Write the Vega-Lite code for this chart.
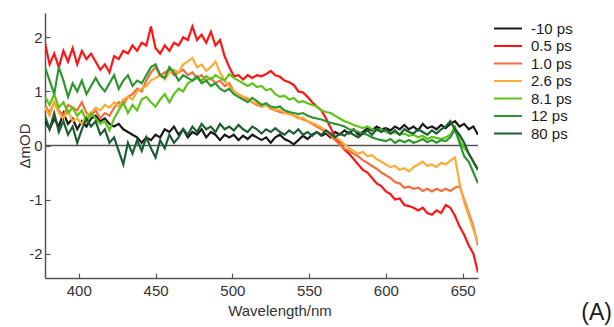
{
"$schema": "https://vega.github.io/schema/vega-lite/v6.json",
"width": 433, "height": 265,
"autosize": {"type": "none"},
"padding": {"left": 45, "top": 13, "right": 136, "bottom": 49},
"background": "white",
"config": {"view": {"stroke": null}, "font": "Liberation Sans"},
"title": {"text": "(A)", "orient": "bottom", "anchor": "end", "frame": "group", "fontSize": 23, "fontWeight": "normal", "color": "#1a1a1a", "dx": 134, "offset": -16},
"datasets": {
"spectra": [
{"w":378,"s":"-10 ps","v":0.45},{"w":381,"s":"-10 ps","v":0.3},{"w":384,"s":"-10 ps","v":0.5},{"w":387,"s":"-10 ps","v":0.35},{"w":390,"s":"-10 ps","v":0.6},{"w":393,"s":"-10 ps","v":0.4},{"w":396,"s":"-10 ps","v":0.5},{"w":399,"s":"-10 ps","v":0.3},{"w":402,"s":"-10 ps","v":0.45},{"w":405,"s":"-10 ps","v":0.35},
{"w":408,"s":"-10 ps","v":0.5},{"w":411,"s":"-10 ps","v":0.55},{"w":414,"s":"-10 ps","v":0.45},{"w":417,"s":"-10 ps","v":0.5},{"w":420,"s":"-10 ps","v":0.4},{"w":423,"s":"-10 ps","v":0.35},{"w":426,"s":"-10 ps","v":0.4},{"w":429,"s":"-10 ps","v":0.3},{"w":432,"s":"-10 ps","v":0.25},{"w":435,"s":"-10 ps","v":0.2},
{"w":438,"s":"-10 ps","v":0.15},{"w":441,"s":"-10 ps","v":0.05},{"w":444,"s":"-10 ps","v":0.15},{"w":447,"s":"-10 ps","v":0.1},{"w":450,"s":"-10 ps","v":0.2},{"w":453,"s":"-10 ps","v":0.15},{"w":456,"s":"-10 ps","v":0.3},{"w":459,"s":"-10 ps","v":0.25},{"w":462,"s":"-10 ps","v":0.35},{"w":465,"s":"-10 ps","v":0.2},
{"w":468,"s":"-10 ps","v":0.3},{"w":471,"s":"-10 ps","v":0.15},{"w":474,"s":"-10 ps","v":0.25},{"w":477,"s":"-10 ps","v":0.2},{"w":480,"s":"-10 ps","v":0.3},{"w":483,"s":"-10 ps","v":0.15},{"w":486,"s":"-10 ps","v":0.25},{"w":489,"s":"-10 ps","v":0.2},{"w":492,"s":"-10 ps","v":0.1},{"w":495,"s":"-10 ps","v":0.2},
{"w":498,"s":"-10 ps","v":0.15},{"w":501,"s":"-10 ps","v":0.2},{"w":504,"s":"-10 ps","v":0.1},{"w":507,"s":"-10 ps","v":0.18},{"w":510,"s":"-10 ps","v":0.12},{"w":513,"s":"-10 ps","v":0.2},{"w":516,"s":"-10 ps","v":0.15},{"w":519,"s":"-10 ps","v":0.1},{"w":522,"s":"-10 ps","v":0.15},{"w":525,"s":"-10 ps","v":0.05},
{"w":528,"s":"-10 ps","v":0.15},{"w":531,"s":"-10 ps","v":0.2},{"w":534,"s":"-10 ps","v":0.12},{"w":537,"s":"-10 ps","v":0.08},{"w":540,"s":"-10 ps","v":0.02},{"w":543,"s":"-10 ps","v":0.1},{"w":546,"s":"-10 ps","v":0.18},{"w":549,"s":"-10 ps","v":0.12},{"w":552,"s":"-10 ps","v":0.2},{"w":555,"s":"-10 ps","v":0.25},
{"w":558,"s":"-10 ps","v":0.18},{"w":561,"s":"-10 ps","v":0.22},{"w":564,"s":"-10 ps","v":0.15},{"w":567,"s":"-10 ps","v":0.25},{"w":570,"s":"-10 ps","v":0.2},{"w":573,"s":"-10 ps","v":0.28},{"w":576,"s":"-10 ps","v":0.22},{"w":579,"s":"-10 ps","v":0.3},{"w":582,"s":"-10 ps","v":0.2},{"w":585,"s":"-10 ps","v":0.25},
{"w":588,"s":"-10 ps","v":0.32},{"w":591,"s":"-10 ps","v":0.28},{"w":594,"s":"-10 ps","v":0.35},{"w":597,"s":"-10 ps","v":0.3},{"w":600,"s":"-10 ps","v":0.32},{"w":603,"s":"-10 ps","v":0.28},{"w":606,"s":"-10 ps","v":0.35},{"w":609,"s":"-10 ps","v":0.3},{"w":612,"s":"-10 ps","v":0.38},{"w":615,"s":"-10 ps","v":0.3},
{"w":618,"s":"-10 ps","v":0.35},{"w":621,"s":"-10 ps","v":0.28},{"w":624,"s":"-10 ps","v":0.4},{"w":627,"s":"-10 ps","v":0.32},{"w":630,"s":"-10 ps","v":0.35},{"w":633,"s":"-10 ps","v":0.3},{"w":636,"s":"-10 ps","v":0.38},{"w":639,"s":"-10 ps","v":0.32},{"w":642,"s":"-10 ps","v":0.4},{"w":645,"s":"-10 ps","v":0.45},
{"w":648,"s":"-10 ps","v":0.35},{"w":651,"s":"-10 ps","v":0.4},{"w":654,"s":"-10 ps","v":0.3},{"w":657,"s":"-10 ps","v":0.35},{"w":660,"s":"-10 ps","v":0.2},

{"w":378,"s":"0.5 ps","v":1.9},{"w":381,"s":"0.5 ps","v":1.5},{"w":384,"s":"0.5 ps","v":1.7},{"w":387,"s":"0.5 ps","v":1.45},{"w":390,"s":"0.5 ps","v":1.75},{"w":393,"s":"0.5 ps","v":1.55},{"w":396,"s":"0.5 ps","v":1.8},{"w":399,"s":"0.5 ps","v":1.5},{"w":402,"s":"0.5 ps","v":1.75},{"w":405,"s":"0.5 ps","v":1.6},
{"w":408,"s":"0.5 ps","v":1.7},{"w":411,"s":"0.5 ps","v":1.55},{"w":414,"s":"0.5 ps","v":1.4},{"w":417,"s":"0.5 ps","v":1.5},{"w":420,"s":"0.5 ps","v":1.35},{"w":423,"s":"0.5 ps","v":1.65},{"w":426,"s":"0.5 ps","v":1.6},{"w":429,"s":"0.5 ps","v":1.75},{"w":432,"s":"0.5 ps","v":1.7},{"w":435,"s":"0.5 ps","v":1.85},
{"w":438,"s":"0.5 ps","v":1.75},{"w":441,"s":"0.5 ps","v":1.9},{"w":444,"s":"0.5 ps","v":1.85},{"w":447,"s":"0.5 ps","v":2.2},{"w":450,"s":"0.5 ps","v":1.8},{"w":453,"s":"0.5 ps","v":1.7},{"w":456,"s":"0.5 ps","v":1.85},{"w":459,"s":"0.5 ps","v":1.75},{"w":462,"s":"0.5 ps","v":1.9},{"w":465,"s":"0.5 ps","v":1.85},
{"w":468,"s":"0.5 ps","v":2.0},{"w":471,"s":"0.5 ps","v":1.95},{"w":474,"s":"0.5 ps","v":2.2},{"w":477,"s":"0.5 ps","v":1.95},{"w":480,"s":"0.5 ps","v":2.05},{"w":483,"s":"0.5 ps","v":1.9},{"w":486,"s":"0.5 ps","v":2.1},{"w":489,"s":"0.5 ps","v":1.85},{"w":492,"s":"0.5 ps","v":1.95},{"w":495,"s":"0.5 ps","v":1.65},
{"w":498,"s":"0.5 ps","v":1.45},{"w":501,"s":"0.5 ps","v":1.28},{"w":504,"s":"0.5 ps","v":1.3},{"w":507,"s":"0.5 ps","v":1.22},{"w":510,"s":"0.5 ps","v":1.3},{"w":513,"s":"0.5 ps","v":1.25},{"w":516,"s":"0.5 ps","v":1.3},{"w":519,"s":"0.5 ps","v":1.28},{"w":522,"s":"0.5 ps","v":1.32},{"w":525,"s":"0.5 ps","v":1.38},
{"w":528,"s":"0.5 ps","v":1.3},{"w":531,"s":"0.5 ps","v":1.27},{"w":534,"s":"0.5 ps","v":1.2},{"w":537,"s":"0.5 ps","v":1.17},{"w":540,"s":"0.5 ps","v":1.12},{"w":543,"s":"0.5 ps","v":1.0},{"w":546,"s":"0.5 ps","v":0.98},{"w":549,"s":"0.5 ps","v":0.9},{"w":552,"s":"0.5 ps","v":0.8},{"w":555,"s":"0.5 ps","v":0.72},
{"w":558,"s":"0.5 ps","v":0.65},{"w":561,"s":"0.5 ps","v":0.5},{"w":564,"s":"0.5 ps","v":0.33},{"w":567,"s":"0.5 ps","v":0.15},{"w":570,"s":"0.5 ps","v":0.05},{"w":573,"s":"0.5 ps","v":-0.08},{"w":576,"s":"0.5 ps","v":-0.15},{"w":579,"s":"0.5 ps","v":-0.25},{"w":582,"s":"0.5 ps","v":-0.35},{"w":585,"s":"0.5 ps","v":-0.45},
{"w":588,"s":"0.5 ps","v":-0.5},{"w":591,"s":"0.5 ps","v":-0.6},{"w":594,"s":"0.5 ps","v":-0.7},{"w":597,"s":"0.5 ps","v":-0.75},{"w":600,"s":"0.5 ps","v":-0.85},{"w":603,"s":"0.5 ps","v":-0.9},{"w":606,"s":"0.5 ps","v":-1.0},{"w":609,"s":"0.5 ps","v":-0.98},{"w":612,"s":"0.5 ps","v":-1.1},{"w":615,"s":"0.5 ps","v":-1.12},
{"w":618,"s":"0.5 ps","v":-1.15},{"w":621,"s":"0.5 ps","v":-1.2},{"w":624,"s":"0.5 ps","v":-1.15},{"w":627,"s":"0.5 ps","v":-1.25},{"w":630,"s":"0.5 ps","v":-1.28},{"w":633,"s":"0.5 ps","v":-1.2},{"w":636,"s":"0.5 ps","v":-1.25},{"w":639,"s":"0.5 ps","v":-1.1},{"w":642,"s":"0.5 ps","v":-1.15},{"w":645,"s":"0.5 ps","v":-1.3},
{"w":648,"s":"0.5 ps","v":-1.5},{"w":651,"s":"0.5 ps","v":-1.65},{"w":654,"s":"0.5 ps","v":-1.85},{"w":657,"s":"0.5 ps","v":-2.0},{"w":660,"s":"0.5 ps","v":-2.35},

{"w":378,"s":"1.0 ps","v":0.75},{"w":381,"s":"1.0 ps","v":0.6},{"w":384,"s":"1.0 ps","v":0.8},{"w":387,"s":"1.0 ps","v":0.65},{"w":390,"s":"1.0 ps","v":0.55},{"w":393,"s":"1.0 ps","v":0.75},{"w":396,"s":"1.0 ps","v":0.7},{"w":399,"s":"1.0 ps","v":0.65},{"w":402,"s":"1.0 ps","v":0.8},{"w":405,"s":"1.0 ps","v":0.6},
{"w":408,"s":"1.0 ps","v":0.55},{"w":411,"s":"1.0 ps","v":0.65},{"w":414,"s":"1.0 ps","v":0.5},{"w":417,"s":"1.0 ps","v":0.6},{"w":420,"s":"1.0 ps","v":0.55},{"w":423,"s":"1.0 ps","v":0.7},{"w":426,"s":"1.0 ps","v":0.8},{"w":429,"s":"1.0 ps","v":0.75},{"w":432,"s":"1.0 ps","v":0.9},{"w":435,"s":"1.0 ps","v":0.95},
{"w":438,"s":"1.0 ps","v":1.05},{"w":441,"s":"1.0 ps","v":1.0},{"w":444,"s":"1.0 ps","v":1.2},{"w":447,"s":"1.0 ps","v":1.35},{"w":450,"s":"1.0 ps","v":1.45},{"w":453,"s":"1.0 ps","v":1.3},{"w":456,"s":"1.0 ps","v":1.35},{"w":459,"s":"1.0 ps","v":1.4},{"w":462,"s":"1.0 ps","v":1.3},{"w":465,"s":"1.0 ps","v":1.35},
{"w":468,"s":"1.0 ps","v":1.4},{"w":471,"s":"1.0 ps","v":1.3},{"w":474,"s":"1.0 ps","v":1.35},{"w":477,"s":"1.0 ps","v":1.25},{"w":480,"s":"1.0 ps","v":1.3},{"w":483,"s":"1.0 ps","v":1.2},{"w":486,"s":"1.0 ps","v":1.25},{"w":489,"s":"1.0 ps","v":1.15},{"w":492,"s":"1.0 ps","v":1.2},{"w":495,"s":"1.0 ps","v":1.1},
{"w":498,"s":"1.0 ps","v":1.15},{"w":501,"s":"1.0 ps","v":1.0},{"w":504,"s":"1.0 ps","v":0.95},{"w":507,"s":"1.0 ps","v":0.9},{"w":510,"s":"1.0 ps","v":0.85},{"w":513,"s":"1.0 ps","v":0.8},{"w":516,"s":"1.0 ps","v":0.75},{"w":519,"s":"1.0 ps","v":0.72},{"w":522,"s":"1.0 ps","v":0.75},{"w":525,"s":"1.0 ps","v":0.68},
{"w":528,"s":"1.0 ps","v":0.65},{"w":531,"s":"1.0 ps","v":0.62},{"w":534,"s":"1.0 ps","v":0.6},{"w":537,"s":"1.0 ps","v":0.62},{"w":540,"s":"1.0 ps","v":0.55},{"w":543,"s":"1.0 ps","v":0.52},{"w":546,"s":"1.0 ps","v":0.48},{"w":549,"s":"1.0 ps","v":0.45},{"w":552,"s":"1.0 ps","v":0.4},{"w":555,"s":"1.0 ps","v":0.35},
{"w":558,"s":"1.0 ps","v":0.3},{"w":561,"s":"1.0 ps","v":0.25},{"w":564,"s":"1.0 ps","v":0.18},{"w":567,"s":"1.0 ps","v":0.1},{"w":570,"s":"1.0 ps","v":0.02},{"w":573,"s":"1.0 ps","v":-0.06},{"w":576,"s":"1.0 ps","v":-0.1},{"w":579,"s":"1.0 ps","v":-0.15},{"w":582,"s":"1.0 ps","v":-0.2},{"w":585,"s":"1.0 ps","v":-0.27},
{"w":588,"s":"1.0 ps","v":-0.32},{"w":591,"s":"1.0 ps","v":-0.38},{"w":594,"s":"1.0 ps","v":-0.43},{"w":597,"s":"1.0 ps","v":-0.5},{"w":600,"s":"1.0 ps","v":-0.55},{"w":603,"s":"1.0 ps","v":-0.6},{"w":606,"s":"1.0 ps","v":-0.68},{"w":609,"s":"1.0 ps","v":-0.7},{"w":612,"s":"1.0 ps","v":-0.78},{"w":615,"s":"1.0 ps","v":-0.76},
{"w":618,"s":"1.0 ps","v":-0.8},{"w":621,"s":"1.0 ps","v":-0.78},{"w":624,"s":"1.0 ps","v":-0.84},{"w":627,"s":"1.0 ps","v":-0.8},{"w":630,"s":"1.0 ps","v":-0.85},{"w":633,"s":"1.0 ps","v":-0.8},{"w":636,"s":"1.0 ps","v":-0.84},{"w":639,"s":"1.0 ps","v":-0.8},{"w":642,"s":"1.0 ps","v":-0.84},{"w":645,"s":"1.0 ps","v":-0.78},
{"w":648,"s":"1.0 ps","v":-0.75},{"w":651,"s":"1.0 ps","v":-1.0},{"w":654,"s":"1.0 ps","v":-1.25},{"w":657,"s":"1.0 ps","v":-1.5},{"w":660,"s":"1.0 ps","v":-1.85},

{"w":378,"s":"2.6 ps","v":0.7},{"w":381,"s":"2.6 ps","v":0.55},{"w":384,"s":"2.6 ps","v":0.8},{"w":387,"s":"2.6 ps","v":0.6},{"w":390,"s":"2.6 ps","v":0.5},{"w":393,"s":"2.6 ps","v":0.65},{"w":396,"s":"2.6 ps","v":0.45},{"w":399,"s":"2.6 ps","v":0.5},{"w":402,"s":"2.6 ps","v":0.4},{"w":405,"s":"2.6 ps","v":0.55},
{"w":408,"s":"2.6 ps","v":0.6},{"w":411,"s":"2.6 ps","v":0.7},{"w":414,"s":"2.6 ps","v":0.65},{"w":417,"s":"2.6 ps","v":0.75},{"w":420,"s":"2.6 ps","v":0.7},{"w":423,"s":"2.6 ps","v":0.8},{"w":426,"s":"2.6 ps","v":0.72},{"w":429,"s":"2.6 ps","v":0.85},{"w":432,"s":"2.6 ps","v":0.9},{"w":435,"s":"2.6 ps","v":0.85},
{"w":438,"s":"2.6 ps","v":1.0},{"w":441,"s":"2.6 ps","v":1.05},{"w":444,"s":"2.6 ps","v":1.1},{"w":447,"s":"2.6 ps","v":1.2},{"w":450,"s":"2.6 ps","v":1.25},{"w":453,"s":"2.6 ps","v":1.3},{"w":456,"s":"2.6 ps","v":1.22},{"w":459,"s":"2.6 ps","v":1.35},{"w":462,"s":"2.6 ps","v":1.4},{"w":465,"s":"2.6 ps","v":1.35},
{"w":468,"s":"2.6 ps","v":1.5},{"w":471,"s":"2.6 ps","v":1.55},{"w":474,"s":"2.6 ps","v":1.62},{"w":477,"s":"2.6 ps","v":1.45},{"w":480,"s":"2.6 ps","v":1.5},{"w":483,"s":"2.6 ps","v":1.38},{"w":486,"s":"2.6 ps","v":1.45},{"w":489,"s":"2.6 ps","v":1.55},{"w":492,"s":"2.6 ps","v":1.35},{"w":495,"s":"2.6 ps","v":1.2},
{"w":498,"s":"2.6 ps","v":1.1},{"w":501,"s":"2.6 ps","v":1.0},{"w":504,"s":"2.6 ps","v":0.95},{"w":507,"s":"2.6 ps","v":0.9},{"w":510,"s":"2.6 ps","v":0.88},{"w":513,"s":"2.6 ps","v":0.8},{"w":516,"s":"2.6 ps","v":0.78},{"w":519,"s":"2.6 ps","v":0.72},{"w":522,"s":"2.6 ps","v":0.75},{"w":525,"s":"2.6 ps","v":0.7},
{"w":528,"s":"2.6 ps","v":0.65},{"w":531,"s":"2.6 ps","v":0.66},{"w":534,"s":"2.6 ps","v":0.6},{"w":537,"s":"2.6 ps","v":0.58},{"w":540,"s":"2.6 ps","v":0.55},{"w":543,"s":"2.6 ps","v":0.5},{"w":546,"s":"2.6 ps","v":0.52},{"w":549,"s":"2.6 ps","v":0.45},{"w":552,"s":"2.6 ps","v":0.42},{"w":555,"s":"2.6 ps","v":0.38},
{"w":558,"s":"2.6 ps","v":0.33},{"w":561,"s":"2.6 ps","v":0.28},{"w":564,"s":"2.6 ps","v":0.22},{"w":567,"s":"2.6 ps","v":0.15},{"w":570,"s":"2.6 ps","v":0.1},{"w":573,"s":"2.6 ps","v":0.02},{"w":576,"s":"2.6 ps","v":-0.05},{"w":579,"s":"2.6 ps","v":-0.1},{"w":582,"s":"2.6 ps","v":-0.15},{"w":585,"s":"2.6 ps","v":-0.12},
{"w":588,"s":"2.6 ps","v":-0.2},{"w":591,"s":"2.6 ps","v":-0.18},{"w":594,"s":"2.6 ps","v":-0.25},{"w":597,"s":"2.6 ps","v":-0.3},{"w":600,"s":"2.6 ps","v":-0.35},{"w":603,"s":"2.6 ps","v":-0.4},{"w":606,"s":"2.6 ps","v":-0.38},{"w":609,"s":"2.6 ps","v":-0.45},{"w":612,"s":"2.6 ps","v":-0.42},{"w":615,"s":"2.6 ps","v":-0.48},
{"w":618,"s":"2.6 ps","v":-0.4},{"w":621,"s":"2.6 ps","v":-0.35},{"w":624,"s":"2.6 ps","v":-0.3},{"w":627,"s":"2.6 ps","v":-0.38},{"w":630,"s":"2.6 ps","v":-0.35},{"w":633,"s":"2.6 ps","v":-0.4},{"w":636,"s":"2.6 ps","v":-0.32},{"w":639,"s":"2.6 ps","v":-0.35},{"w":642,"s":"2.6 ps","v":-0.28},{"w":645,"s":"2.6 ps","v":-0.22},
{"w":648,"s":"2.6 ps","v":-0.7},{"w":651,"s":"2.6 ps","v":-1.05},{"w":654,"s":"2.6 ps","v":-1.3},{"w":657,"s":"2.6 ps","v":-1.55},{"w":660,"s":"2.6 ps","v":-1.8},

{"w":378,"s":"8.1 ps","v":0.9},{"w":381,"s":"8.1 ps","v":0.75},{"w":384,"s":"8.1 ps","v":0.95},{"w":387,"s":"8.1 ps","v":0.7},{"w":390,"s":"8.1 ps","v":0.8},{"w":393,"s":"8.1 ps","v":0.6},{"w":396,"s":"8.1 ps","v":0.7},{"w":399,"s":"8.1 ps","v":0.55},{"w":402,"s":"8.1 ps","v":0.65},{"w":405,"s":"8.1 ps","v":0.45},
{"w":408,"s":"8.1 ps","v":0.6},{"w":411,"s":"8.1 ps","v":0.5},{"w":414,"s":"8.1 ps","v":0.4},{"w":417,"s":"8.1 ps","v":0.45},{"w":420,"s":"8.1 ps","v":0.28},{"w":423,"s":"8.1 ps","v":0.5},{"w":426,"s":"8.1 ps","v":0.65},{"w":429,"s":"8.1 ps","v":0.8},{"w":432,"s":"8.1 ps","v":0.6},{"w":435,"s":"8.1 ps","v":0.75},
{"w":438,"s":"8.1 ps","v":0.65},{"w":441,"s":"8.1 ps","v":0.85},{"w":444,"s":"8.1 ps","v":0.9},{"w":447,"s":"8.1 ps","v":0.8},{"w":450,"s":"8.1 ps","v":0.72},{"w":453,"s":"8.1 ps","v":0.85},{"w":456,"s":"8.1 ps","v":0.95},{"w":459,"s":"8.1 ps","v":0.8},{"w":462,"s":"8.1 ps","v":0.95},{"w":465,"s":"8.1 ps","v":1.05},
{"w":468,"s":"8.1 ps","v":1.0},{"w":471,"s":"8.1 ps","v":1.15},{"w":474,"s":"8.1 ps","v":1.2},{"w":477,"s":"8.1 ps","v":1.25},{"w":480,"s":"8.1 ps","v":1.2},{"w":483,"s":"8.1 ps","v":1.28},{"w":486,"s":"8.1 ps","v":1.22},{"w":489,"s":"8.1 ps","v":1.3},{"w":492,"s":"8.1 ps","v":1.25},{"w":495,"s":"8.1 ps","v":1.2},
{"w":498,"s":"8.1 ps","v":1.32},{"w":501,"s":"8.1 ps","v":1.25},{"w":504,"s":"8.1 ps","v":1.2},{"w":507,"s":"8.1 ps","v":1.15},{"w":510,"s":"8.1 ps","v":1.1},{"w":513,"s":"8.1 ps","v":1.15},{"w":516,"s":"8.1 ps","v":1.08},{"w":519,"s":"8.1 ps","v":1.1},{"w":522,"s":"8.1 ps","v":1.02},{"w":525,"s":"8.1 ps","v":1.05},
{"w":528,"s":"8.1 ps","v":0.95},{"w":531,"s":"8.1 ps","v":0.9},{"w":534,"s":"8.1 ps","v":0.92},{"w":537,"s":"8.1 ps","v":0.85},{"w":540,"s":"8.1 ps","v":0.88},{"w":543,"s":"8.1 ps","v":0.8},{"w":546,"s":"8.1 ps","v":0.82},{"w":549,"s":"8.1 ps","v":0.78},{"w":552,"s":"8.1 ps","v":0.75},{"w":555,"s":"8.1 ps","v":0.72},
{"w":558,"s":"8.1 ps","v":0.65},{"w":561,"s":"8.1 ps","v":0.62},{"w":564,"s":"8.1 ps","v":0.6},{"w":567,"s":"8.1 ps","v":0.55},{"w":570,"s":"8.1 ps","v":0.5},{"w":573,"s":"8.1 ps","v":0.45},{"w":576,"s":"8.1 ps","v":0.42},{"w":579,"s":"8.1 ps","v":0.38},{"w":582,"s":"8.1 ps","v":0.35},{"w":585,"s":"8.1 ps","v":0.32},
{"w":588,"s":"8.1 ps","v":0.35},{"w":591,"s":"8.1 ps","v":0.3},{"w":594,"s":"8.1 ps","v":0.28},{"w":597,"s":"8.1 ps","v":0.3},{"w":600,"s":"8.1 ps","v":0.25},{"w":603,"s":"8.1 ps","v":0.22},{"w":606,"s":"8.1 ps","v":0.24},{"w":609,"s":"8.1 ps","v":0.2},{"w":612,"s":"8.1 ps","v":0.22},{"w":615,"s":"8.1 ps","v":0.18},
{"w":618,"s":"8.1 ps","v":0.2},{"w":621,"s":"8.1 ps","v":0.15},{"w":624,"s":"8.1 ps","v":0.18},{"w":627,"s":"8.1 ps","v":0.12},{"w":630,"s":"8.1 ps","v":0.16},{"w":633,"s":"8.1 ps","v":0.14},{"w":636,"s":"8.1 ps","v":0.12},{"w":639,"s":"8.1 ps","v":0.15},{"w":642,"s":"8.1 ps","v":0.2},{"w":645,"s":"8.1 ps","v":0.35},
{"w":648,"s":"8.1 ps","v":0.1},{"w":651,"s":"8.1 ps","v":-0.05},{"w":654,"s":"8.1 ps","v":-0.15},{"w":657,"s":"8.1 ps","v":-0.3},{"w":660,"s":"8.1 ps","v":-0.45},

{"w":378,"s":"12 ps","v":1.45},{"w":381,"s":"12 ps","v":1.2},{"w":384,"s":"12 ps","v":0.95},{"w":387,"s":"12 ps","v":1.45},{"w":390,"s":"12 ps","v":1.2},{"w":393,"s":"12 ps","v":0.9},{"w":396,"s":"12 ps","v":1.15},{"w":399,"s":"12 ps","v":1.0},{"w":402,"s":"12 ps","v":1.2},{"w":405,"s":"12 ps","v":0.95},
{"w":408,"s":"12 ps","v":1.1},{"w":411,"s":"12 ps","v":1.25},{"w":414,"s":"12 ps","v":1.1},{"w":417,"s":"12 ps","v":1.0},{"w":420,"s":"12 ps","v":1.15},{"w":423,"s":"12 ps","v":1.3},{"w":426,"s":"12 ps","v":1.05},{"w":429,"s":"12 ps","v":1.2},{"w":432,"s":"12 ps","v":1.3},{"w":435,"s":"12 ps","v":1.1},
{"w":438,"s":"12 ps","v":1.2},{"w":441,"s":"12 ps","v":1.15},{"w":444,"s":"12 ps","v":1.3},{"w":447,"s":"12 ps","v":1.45},{"w":450,"s":"12 ps","v":1.5},{"w":453,"s":"12 ps","v":1.3},{"w":456,"s":"12 ps","v":1.25},{"w":459,"s":"12 ps","v":1.45},{"w":462,"s":"12 ps","v":1.35},{"w":465,"s":"12 ps","v":1.2},
{"w":468,"s":"12 ps","v":1.3},{"w":471,"s":"12 ps","v":1.25},{"w":474,"s":"12 ps","v":1.2},{"w":477,"s":"12 ps","v":1.28},{"w":480,"s":"12 ps","v":1.15},{"w":483,"s":"12 ps","v":1.2},{"w":486,"s":"12 ps","v":1.1},{"w":489,"s":"12 ps","v":1.15},{"w":492,"s":"12 ps","v":1.05},{"w":495,"s":"12 ps","v":1.0},
{"w":498,"s":"12 ps","v":1.05},{"w":501,"s":"12 ps","v":0.95},{"w":504,"s":"12 ps","v":0.9},{"w":507,"s":"12 ps","v":0.85},{"w":510,"s":"12 ps","v":0.8},{"w":513,"s":"12 ps","v":0.88},{"w":516,"s":"12 ps","v":0.82},{"w":519,"s":"12 ps","v":0.75},{"w":522,"s":"12 ps","v":0.78},{"w":525,"s":"12 ps","v":0.72},
{"w":528,"s":"12 ps","v":0.7},{"w":531,"s":"12 ps","v":0.72},{"w":534,"s":"12 ps","v":0.65},{"w":537,"s":"12 ps","v":0.62},{"w":540,"s":"12 ps","v":0.6},{"w":543,"s":"12 ps","v":0.58},{"w":546,"s":"12 ps","v":0.6},{"w":549,"s":"12 ps","v":0.55},{"w":552,"s":"12 ps","v":0.52},{"w":555,"s":"12 ps","v":0.5},
{"w":558,"s":"12 ps","v":0.48},{"w":561,"s":"12 ps","v":0.45},{"w":564,"s":"12 ps","v":0.42},{"w":567,"s":"12 ps","v":0.4},{"w":570,"s":"12 ps","v":0.38},{"w":573,"s":"12 ps","v":0.35},{"w":576,"s":"12 ps","v":0.3},{"w":579,"s":"12 ps","v":0.28},{"w":582,"s":"12 ps","v":0.25},{"w":585,"s":"12 ps","v":0.22},
{"w":588,"s":"12 ps","v":0.2},{"w":591,"s":"12 ps","v":0.15},{"w":594,"s":"12 ps","v":0.12},{"w":597,"s":"12 ps","v":0.1},{"w":600,"s":"12 ps","v":0.08},{"w":603,"s":"12 ps","v":0.12},{"w":606,"s":"12 ps","v":0.05},{"w":609,"s":"12 ps","v":0.1},{"w":612,"s":"12 ps","v":0.06},{"w":615,"s":"12 ps","v":0.1},
{"w":618,"s":"12 ps","v":0.05},{"w":621,"s":"12 ps","v":0.08},{"w":624,"s":"12 ps","v":0.12},{"w":627,"s":"12 ps","v":0.06},{"w":630,"s":"12 ps","v":0.1},{"w":633,"s":"12 ps","v":0.05},{"w":636,"s":"12 ps","v":0.1},{"w":639,"s":"12 ps","v":0.08},{"w":642,"s":"12 ps","v":0.15},{"w":645,"s":"12 ps","v":0.3},
{"w":648,"s":"12 ps","v":0.05},{"w":651,"s":"12 ps","v":-0.2},{"w":654,"s":"12 ps","v":-0.3},{"w":657,"s":"12 ps","v":-0.5},{"w":660,"s":"12 ps","v":-0.7},

{"w":378,"s":"80 ps","v":0.55},{"w":381,"s":"80 ps","v":0.3},{"w":384,"s":"80 ps","v":0.6},{"w":387,"s":"80 ps","v":0.25},{"w":390,"s":"80 ps","v":0.45},{"w":393,"s":"80 ps","v":0.2},{"w":396,"s":"80 ps","v":0.35},{"w":399,"s":"80 ps","v":0.05},{"w":402,"s":"80 ps","v":0.3},{"w":405,"s":"80 ps","v":0.5},
{"w":408,"s":"80 ps","v":0.35},{"w":411,"s":"80 ps","v":0.45},{"w":414,"s":"80 ps","v":0.2},{"w":417,"s":"80 ps","v":0.3},{"w":420,"s":"80 ps","v":0.05},{"w":423,"s":"80 ps","v":0.15},{"w":426,"s":"80 ps","v":-0.1},{"w":429,"s":"80 ps","v":-0.35},{"w":432,"s":"80 ps","v":0.05},{"w":435,"s":"80 ps","v":-0.15},
{"w":438,"s":"80 ps","v":0.1},{"w":441,"s":"80 ps","v":-0.1},{"w":444,"s":"80 ps","v":0.15},{"w":447,"s":"80 ps","v":-0.05},{"w":450,"s":"80 ps","v":-0.22},{"w":453,"s":"80 ps","v":0.1},{"w":456,"s":"80 ps","v":-0.05},{"w":459,"s":"80 ps","v":0.2},{"w":462,"s":"80 ps","v":0.05},{"w":465,"s":"80 ps","v":0.15},
{"w":468,"s":"80 ps","v":0.3},{"w":471,"s":"80 ps","v":0.2},{"w":474,"s":"80 ps","v":0.35},{"w":477,"s":"80 ps","v":0.25},{"w":480,"s":"80 ps","v":0.4},{"w":483,"s":"80 ps","v":0.3},{"w":486,"s":"80 ps","v":0.35},{"w":489,"s":"80 ps","v":0.25},{"w":492,"s":"80 ps","v":0.4},{"w":495,"s":"80 ps","v":0.3},
{"w":498,"s":"80 ps","v":0.35},{"w":501,"s":"80 ps","v":0.28},{"w":504,"s":"80 ps","v":0.38},{"w":507,"s":"80 ps","v":0.3},{"w":510,"s":"80 ps","v":0.25},{"w":513,"s":"80 ps","v":0.35},{"w":516,"s":"80 ps","v":0.3},{"w":519,"s":"80 ps","v":0.22},{"w":522,"s":"80 ps","v":0.3},{"w":525,"s":"80 ps","v":0.25},
{"w":528,"s":"80 ps","v":0.32},{"w":531,"s":"80 ps","v":0.25},{"w":534,"s":"80 ps","v":0.2},{"w":537,"s":"80 ps","v":0.28},{"w":540,"s":"80 ps","v":0.22},{"w":543,"s":"80 ps","v":0.3},{"w":546,"s":"80 ps","v":0.2},{"w":549,"s":"80 ps","v":0.25},{"w":552,"s":"80 ps","v":0.18},{"w":555,"s":"80 ps","v":0.25},
{"w":558,"s":"80 ps","v":0.2},{"w":561,"s":"80 ps","v":0.28},{"w":564,"s":"80 ps","v":0.22},{"w":567,"s":"80 ps","v":0.15},{"w":570,"s":"80 ps","v":0.22},{"w":573,"s":"80 ps","v":0.18},{"w":576,"s":"80 ps","v":0.25},{"w":579,"s":"80 ps","v":0.2},{"w":582,"s":"80 ps","v":0.15},{"w":585,"s":"80 ps","v":0.22},
{"w":588,"s":"80 ps","v":0.28},{"w":591,"s":"80 ps","v":0.2},{"w":594,"s":"80 ps","v":0.3},{"w":597,"s":"80 ps","v":0.25},{"w":600,"s":"80 ps","v":0.3},{"w":603,"s":"80 ps","v":0.22},{"w":606,"s":"80 ps","v":0.28},{"w":609,"s":"80 ps","v":0.2},{"w":612,"s":"80 ps","v":0.3},{"w":615,"s":"80 ps","v":0.25},
{"w":618,"s":"80 ps","v":0.22},{"w":621,"s":"80 ps","v":0.3},{"w":624,"s":"80 ps","v":0.25},{"w":627,"s":"80 ps","v":0.2},{"w":630,"s":"80 ps","v":0.28},{"w":633,"s":"80 ps","v":0.22},{"w":636,"s":"80 ps","v":0.3},{"w":639,"s":"80 ps","v":0.35},{"w":642,"s":"80 ps","v":0.45},{"w":645,"s":"80 ps","v":0.3},
{"w":648,"s":"80 ps","v":0.2},{"w":651,"s":"80 ps","v":0.05},{"w":654,"s":"80 ps","v":-0.15},{"w":657,"s":"80 ps","v":-0.3},{"w":660,"s":"80 ps","v":-0.45}
],
"zero": [{"v": 0}]
},
"layer": [
{
"data": {"name": "zero"},
"mark": {"type": "rule", "color": "#555555", "strokeWidth": 1.5},
"encoding": {
"y": {"field": "v", "type": "quantitative", "title": "ΔmOD",
"scale": {"domain": [-2.45, 2.45], "nice": false},
"axis": {"values": [-2, -1, 0, 1, 2], "title": "ΔmOD", "grid": false,
"tickSize": -5, "labelPadding": 8, "domainColor": "#555555", "tickColor": "#555555", "domainWidth": 1.5, "tickWidth": 1.2,
"labelFontSize": 15, "labelColor": "#333333", "labelExpr": "'' + datum.value",
"titleFontSize": 15, "titleFontWeight": "normal", "titleColor": "#333333",
"titleX": -21, "titleY": 132.5, "titleAngle": 270, "titleAlign": "center", "titleBaseline": "middle"}}
}
},
{
"data": {"name": "spectra"},
"mark": {"type": "line", "strokeWidth": 2.2, "clip": true},
"encoding": {
"x": {"field": "w", "type": "quantitative",
"scale": {"domain": [378, 660], "nice": false, "zero": false},
"axis": {"values": [400, 450, 500, 550, 600, 650], "title": "Wavelength/nm", "grid": false,
"tickSize": -5, "labelPadding": 10, "domainColor": "#555555", "tickColor": "#555555", "domainWidth": 1.5, "tickWidth": 1.2,
"labelFontSize": 15, "labelColor": "#333333", "labelFlush": false,
"titleFontSize": 15, "titleFontWeight": "normal", "titleColor": "#333333",
"titleX": 234.5, "titleY": 32, "titleAlign": "center", "titleBaseline": "middle"}},
"y": {"field": "v", "type": "quantitative", "title": "ΔmOD",
"scale": {"domain": [-2.45, 2.45], "nice": false},
"axis": {"values": [-2, -1, 0, 1, 2], "title": "ΔmOD", "grid": false,
"tickSize": -5, "labelPadding": 8, "domainColor": "#555555", "tickColor": "#555555", "domainWidth": 1.5, "tickWidth": 1.2,
"labelFontSize": 15, "labelColor": "#333333", "labelExpr": "'' + datum.value",
"titleFontSize": 15, "titleFontWeight": "normal", "titleColor": "#333333",
"titleX": -21, "titleY": 132.5, "titleAngle": 270, "titleAlign": "center", "titleBaseline": "middle"}},
"color": {"field": "s", "type": "nominal",
"scale": {"domain": ["-10 ps", "0.5 ps", "1.0 ps", "2.6 ps", "8.1 ps", "12 ps", "80 ps"],
"range": ["#1a1a1a", "#ff1414", "#f46d3c", "#fbac35", "#5ec41a", "#2e9630", "#1d5e34"]},
"legend": {"orient": "none", "legendX": 455, "legendY": 7.5, "title": null, "padding": 0,
"symbolType": "M-2,0H2", "symbolSize": 196, "symbolStrokeWidth": 2,
"labelFontSize": 15, "labelColor": "#1a1a1a", "labelOffset": 15, "rowPadding": 1.5}}
}
}
]
}
